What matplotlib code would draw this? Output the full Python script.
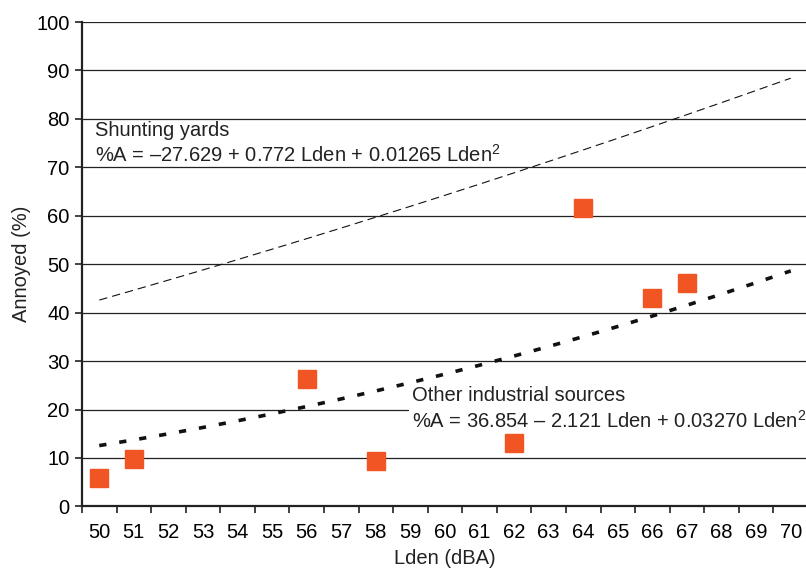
import matplotlib
matplotlib.use("Agg")
import matplotlib.pyplot as plt
import numpy as np

plt.rcParams['font.family'] = ['Liberation Sans', 'DejaVu Sans']
plt.rcParams['mathtext.fontset'] = 'custom'
plt.rcParams['mathtext.rm'] = 'Liberation Sans'
plt.rcParams['mathtext.default'] = 'regular'

# survey points: noise level (Lden) vs percentage annoyed
lden = [50, 51, 56, 58, 62, 64, 66, 67]
annoyed = [5.8, 9.8, 26.3, 9.4, 13.0, 61.6, 43.0, 46.2]

# quadratic fits, highest power first (for np.polyval)
shunting_coef = [0.01265, 0.772, -27.629]
industrial_coef = [0.03270, -2.121, 36.854]

x_labels = list(range(50, 71))
y_ticks = list(range(0, 101, 10))

fs = 14.5

fig = plt.figure(figsize=(8.06, 5.71), dpi=100)
ax = fig.add_axes([82 / 806, 1 - 506.4 / 571, 726 / 806, (506.4 - 22) / 571])

# horizontal grid lines
for yv in y_ticks[1:]:
    ax.axhline(yv, color='#222222', lw=0.9, zorder=1)

xs = np.array(x_labels, dtype=float)
ax.plot(xs, np.polyval(shunting_coef, xs), color='#111111', lw=0.8,
        dashes=(7.5, 4.5), zorder=2)
ax.plot(xs, np.polyval(industrial_coef, xs), color='#111111', lw=2.6,
        dashes=(2.0, 3.6), zorder=2)

ax.plot(lden, annoyed, linestyle='none', marker='s', markersize=12.5,
        color='#f15524', markeredgecolor='#f15524', zorder=4)

ax.text(49.88, 79.6, 'Shunting yards\n%A = –27.629 + 0.772 Lden + 0.01265 Lden$^2$',
        fontsize=fs, va='top', ha='left', linespacing=1.25, color='#222222', zorder=3)
ax.text(59.05, 24.8, 'Other industrial sources\n%A = 36.854 – 2.121 Lden + 0.03270 Lden$^2$',
        fontsize=fs, va='top', ha='left', linespacing=1.25, color='#222222', zorder=3,
        bbox=dict(facecolor='white', edgecolor='none', pad=2))

ax.set_xlim(49.5, 70.5)
ax.set_ylim(0, 100)
ax.set_xticks(np.arange(49.5, 71, 1))
ax.set_xticklabels([])
ax.set_xticks(xs, minor=True)
ax.set_xticklabels([str(v) for v in x_labels], minor=True)
ax.tick_params(axis='x', which='minor', length=0, pad=12, labelsize=fs)
ax.tick_params(axis='x', which='major', length=5, width=1.2, color='#222222')
ax.set_yticks(y_ticks)
ax.tick_params(axis='y', length=5, width=1.2, color='#222222', labelsize=fs, pad=4)

for side in ['top', 'right']:
    ax.spines[side].set_visible(False)
for side in ['left', 'bottom']:
    ax.spines[side].set_linewidth(1.6)
    ax.spines[side].set_color('#222222')

ax.set_xlabel('Lden (dBA)', fontsize=fs, labelpad=5, color='#222222')
ax.set_ylabel('Annoyed (%)', fontsize=fs, labelpad=4, color='#222222')

fig.savefig('out.png', dpi=100)
